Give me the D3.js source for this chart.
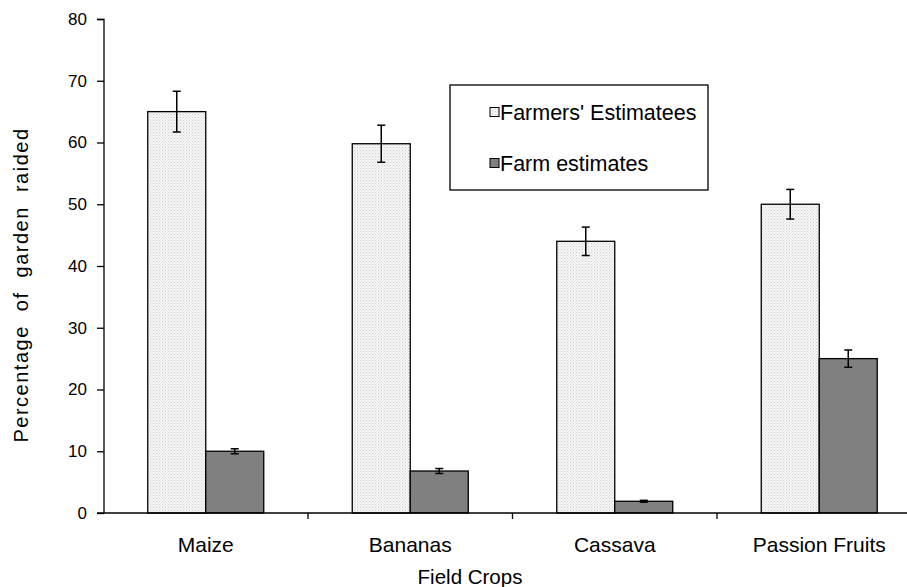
<!DOCTYPE html>
<html>
<head>
<meta charset="utf-8">
<script src="https://cdn.jsdelivr.net/npm/d3@7/dist/d3.min.js"></script>
<style>
  html, body { margin: 0; padding: 0; background: #fff; }
  svg { display: block; font-family: "Liberation Sans", Arial, sans-serif; }
</style>
</head>
<body>
<svg id="chart" width="907" height="587"></svg>
<script>
const categories = ["Maize", "Bananas", "Cassava", "Passion Fruits"];
const seriesNames = ["Farmers' Estimatees", "Farm estimates"];
const farmersValues = [65, 59.8, 44, 50];
const farmersErrors = [3.3, 3.0, 2.3, 2.4];
const farmValues = [10, 6.8, 1.9, 25];
const farmErrors = [0.4, 0.4, 0.15, 1.4];
const yTicks = [0, 10, 20, 30, 40, 50, 60, 70, 80];
const yTitle = "Percentage of garden raided";
const xTitle = "Field Crops";

const svg = d3.select("#chart");
const defs = svg.append("defs");
const pat = defs.append("pattern").attr("id", "dots").attr("patternUnits", "userSpaceOnUse")
  .attr("width", 3).attr("height", 3);
pat.append("rect").attr("width", 3).attr("height", 3).attr("fill", "#f6f6f6");
pat.append("rect").attr("x", 0).attr("y", 0).attr("width", 1).attr("height", 1).attr("fill", "#cfcfcf");
pat.append("rect").attr("x", 1.5).attr("y", 1.5).attr("width", 1).attr("height", 1).attr("fill", "#d8d8d8");

const y = d3.scaleLinear().domain([0, 80]).range([513, 19]);
const x = d3.scaleBand().domain(categories).range([103.5, 921.5]).paddingInner(0).paddingOuter(0);
const barW = 58;

const series = [
  { name: seriesNames[0], values: farmersValues, errors: farmersErrors, fill: "url(#dots)" },
  { name: seriesNames[1], values: farmValues, errors: farmErrors, fill: "#808080" }
];

// Y axis
const yAxis = d3.axisLeft(y).tickValues(yTicks).tickSize(7).tickPadding(10).tickFormat(d3.format("d"));
const gy = svg.append("g").attr("transform", "translate(104,0)").call(yAxis);
gy.select(".domain").attr("stroke", "#000").attr("stroke-width", 1.3).attr("d", "M-7,19.5H0V513");
gy.selectAll(".tick line").attr("stroke", "#000").attr("stroke-width", 1.3);
gy.selectAll(".tick text").attr("font-size", 17).attr("fill", "#000").attr("font-family", "Liberation Sans, Arial, sans-serif");

// Bars
categories.forEach((c, i) => {
  const gx = x(c) + (x.bandwidth() - 2 * barW) / 2;
  series.forEach((s, j) => {
    const bx = gx + j * barW;
    svg.append("rect")
      .attr("x", bx).attr("y", y(s.values[i]))
      .attr("width", barW).attr("height", y(0) - y(s.values[i]))
      .attr("fill", s.fill).attr("stroke", "#000").attr("stroke-width", 1.3);
    const cx = bx + barW / 2;
    const hi = y(s.values[i] + s.errors[i]), lo = y(s.values[i] - s.errors[i]);
    const eg = svg.append("g").attr("stroke", "#000").attr("stroke-width", 1.5);
    eg.append("line").attr("x1", cx).attr("x2", cx).attr("y1", hi).attr("y2", lo);
    eg.append("line").attr("x1", cx - 4).attr("x2", cx + 4).attr("y1", hi).attr("y2", hi);
    eg.append("line").attr("x1", cx - 4).attr("x2", cx + 4).attr("y1", lo).attr("y2", lo);
  });
});

// X axis
const gxAxis = svg.append("g").attr("transform", "translate(0,513)");
gxAxis.append("line").attr("x1", 97).attr("x2", 907).attr("y1", 0).attr("y2", 0)
  .attr("stroke", "#000").attr("stroke-width", 1.3);
categories.slice(1).forEach(c => {
  gxAxis.append("line").attr("x1", x(c)).attr("x2", x(c)).attr("y1", 0).attr("y2", 6)
    .attr("stroke", "#000").attr("stroke-width", 1.3);
});
categories.forEach(c => {
  gxAxis.append("text").attr("x", x(c) + x.bandwidth() / 2).attr("y", 39)
    .attr("text-anchor", "middle").attr("font-size", 21).attr("fill", "#000").text(c);
});

// Titles
svg.append("text").attr("x", 470).attr("y", 584).attr("text-anchor", "middle")
  .attr("font-size", 20.5).attr("fill", "#000").text(xTitle);
svg.append("text").attr("transform", "translate(27.5,285) rotate(-90)").attr("text-anchor", "middle")
  .attr("font-size", 20).attr("fill", "#000").attr("letter-spacing", 1.5).attr("word-spacing", 7)
  .text(yTitle);

// Legend
const lg = svg.append("g");
lg.append("rect").attr("x", 450).attr("y", 85).attr("width", 258).attr("height", 105)
  .attr("fill", "#fff").attr("stroke", "#000").attr("stroke-width", 1.3);
series.forEach((s, j) => {
  const ly = 112 + j * 51;
  lg.append("rect").attr("x", 490).attr("y", ly - 4.5).attr("width", 9).attr("height", 9)
    .attr("fill", s.fill).attr("stroke", "#000").attr("stroke-width", 1);
  lg.append("text").attr("x", 500).attr("y", ly + 7.5).attr("font-size", 21.5).attr("fill", "#000").text(s.name);
});
</script>
</body>
</html>
